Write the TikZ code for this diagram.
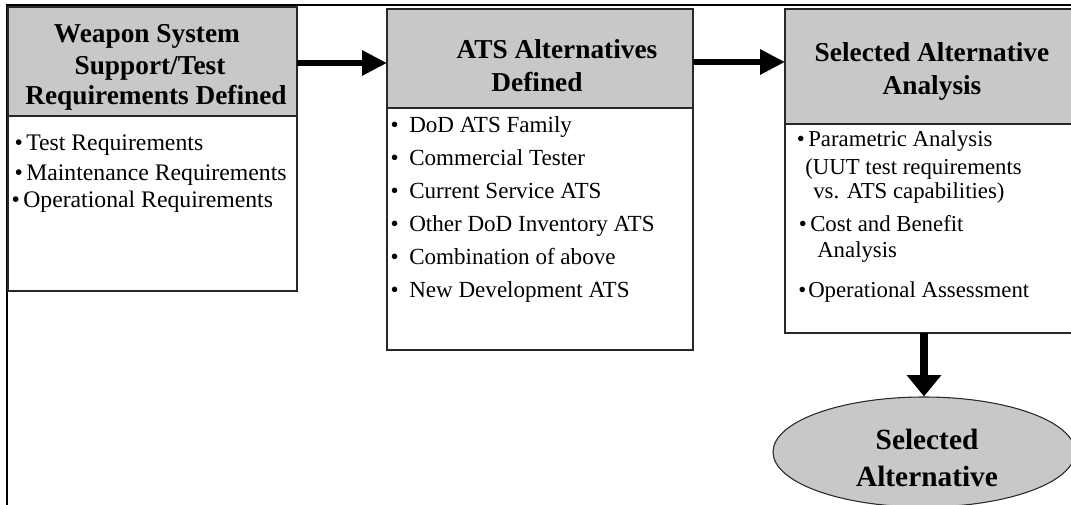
\documentclass[tikz,border=0pt]{standalone}
\usepackage{fontspec}
\setmainfont{Liberation Serif}
\usetikzlibrary{arrows.meta,shapes.geometric}
\definecolor{boxgray}{RGB}{200,200,200}
\definecolor{edge}{RGB}{40,40,40}
\newcommand{\blt}{\llap{•\hspace{2.5pt}}}
\newcommand{\sblt}{\llap{•\hspace{8pt}}}
\begin{document}
\begin{tikzpicture}[x=0.75pt,y=-0.75pt,
  hdr/.style={draw=edge, line width=0.8pt, fill=boxgray, anchor=north west,
    inner sep=0pt, outer sep=0pt},
  bodybox/.style={draw=edge, line width=0.8pt, fill=white, anchor=north west,
    inner sep=0pt, outer sep=0pt},
  htext/.style={font=\bfseries\fontsize{20.5}{24}\selectfont, anchor=base, inner sep=0pt},
  etext/.style={font=\bfseries\fontsize{22}{26}\selectfont, anchor=base, inner sep=0pt},
  btextA/.style={font=\fontsize{17.8}{20}\selectfont, anchor=base west, inner sep=0pt},
  btextB/.style={font=\fontsize{17.3}{20}\selectfont, anchor=base west, inner sep=0pt},
  btextC/.style={font=\fontsize{17.1}{20}\selectfont, anchor=base west, inner sep=0pt},
  flow/.style={line width=4.5pt, -{Triangle[length=18.75pt,width=18pt]}},
  flowdown/.style={line width=6pt, -{Triangle[length=16pt,width=25pt]}},
]
\useasboundingbox (0,0) rectangle (1071,505);
\clip (0,0) rectangle (1071,505);

% outer frame (top and left edges)
\draw[line width=2pt] (7,510) -- (7,5) -- (1075,5);

% box 1: weapon system requirements
\node[hdr, minimum width=216.75pt, minimum height=81.75pt] (h1) at (8,7) {};
\node[bodybox, minimum width=216.75pt, minimum height=131.25pt] (b1) at (8,116) {};
\node[htext] (h1a) at (147,43) {Weapon System};
\node[htext] (h1b) at (150,75) {Support/Test};
\node[htext] (h1c) at (156,105) {Requirements Defined};
\node[btextA] (b1a) at (26,151) {\blt Test Requirements};
\node[btextA] (b1b) at (26,181) {\blt Maintenance Requirements};
\node[btextA] (b1c) at (23,208) {\blt Operational Requirements};

% box 2: ATS alternatives
\node[hdr, minimum width=229.5pt, minimum height=74.25pt] (h2) at (387,9) {};
\node[bodybox, minimum width=229.5pt, minimum height=181.5pt] (b2) at (387,108) {};
\node[htext] (h2a) at (557,59) {ATS Alternatives};
\node[htext] (h2b) at (537,92) {Defined};
\node[btextB] (b2a) at (409,133) {\sblt DoD ATS Family};
\node[btextB] (b2b) at (409,166) {\sblt Commercial Tester};
\node[btextB] (b2c) at (409,199) {\sblt Current Service ATS};
\node[btextB] (b2d) at (409,232) {\sblt Other DoD Inventory ATS};
\node[btextB] (b2e) at (409,265) {\sblt Combination of above};
\node[btextB] (b2f) at (409,298) {\sblt New Development ATS};

% box 3: selected alternative analysis
\node[hdr, minimum width=221.25pt, minimum height=86.25pt] (h3) at (785,9) {};
\node[bodybox, minimum width=221.25pt, minimum height=156.75pt] (b3) at (785,124) {};
\node[htext] (h3a) at (932,62) {Selected Alternative};
\node[htext] (h3b) at (932,95) {Analysis};
\node[btextC] (b3a) at (808,147) {\blt Parametric Analysis};
\node[btextC] (b3b) at (805,175) {(UUT test requirements};
\node[btextC] (b3c) at (813,199) {vs. ATS capabilities)};
\node[btextC] (b3d) at (810,232) {\blt Cost and Benefit};
\node[btextC] (b3e) at (817,258) {Analysis};
\node[btextC] (b3f) at (808,298) {\llap{•\hspace{1.5pt}}Operational Assessment};

% outcome
\node[ellipse, draw=edge, line width=0.8pt, fill=boxgray, inner sep=0pt,
  minimum width=226.5pt, minimum height=82.5pt] (sel) at (924,452) {};
\node[etext] (sela) at (927,450) {Selected};
\node[etext] (selb) at (927,487) {Alternative};

% flow arrows
\draw[flow] (h1.east |- 0,63) -- (h2.west |- 0,63);
\draw[flow] (h2.east |- 0,62) -- (h3.west |- 0,62);
\draw[flowdown] (b3.south -| 924,0) -- (sel.north);
\end{tikzpicture}
\end{document}
